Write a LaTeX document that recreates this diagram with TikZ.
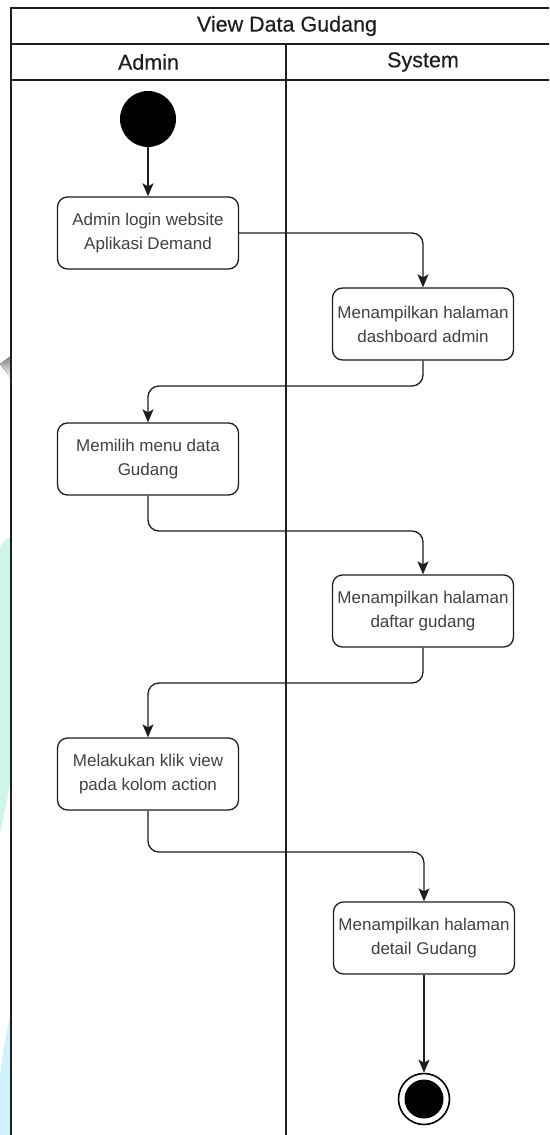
\documentclass[tikz,border=0pt]{standalone}
\usepackage{fontspec}
\setmainfont{Liberation Sans}
\newfontfamily\headfont{Liberation Sans}[FakeBold=0.35]
\usetikzlibrary{arrows.meta}

\definecolor{mint}{HTML}{CFF6E8}
\definecolor{skyblue}{HTML}{D0F2FD}
\definecolor{shade}{HTML}{C6C6C6}
\definecolor{ink}{HTML}{1E1E1E}

\tikzset{
  frameline/.style={line width=1.4pt, draw=ink},
  actbox/.style={draw=ink, line width=1.3pt, rounded corners=10pt, fill=white,
    minimum width=181pt, minimum height=72pt, inner sep=0pt, align=center,
    text=ink!85, font=\fontsize{17}{24}\selectfont},
  hdr/.style={text=ink, font=\headfont\fontsize{21.5}{24}\selectfont},
  flow/.style={draw=ink, line width=1.3pt, rounded corners=11pt,
    -{Stealth[length=13pt, width=11pt, inset=3pt]}},
  initstate/.style={circle, fill=black, minimum size=56pt, inner sep=0pt},
}

\begin{document}
\begin{tikzpicture}[x=1pt, y=-1pt]
\useasboundingbox (0,0) rectangle (549,1135);
\clip (0,0) rectangle (549,1135);

% faint background shapes along the left edge
\fill[shade] (0,364) -- (11,356) -- (11,378) -- cycle;
\fill[mint] (0,548) .. controls (3,541) and (7,538) .. (11,538) -- (11,775)
  .. controls (8,800) and (3,818) .. (0,834) -- cycle;
\fill[skyblue] (11,1012) .. controls (6,1034) and (2,1055) .. (0,1078)
  -- (0,1135) -- (11,1135) -- cycle;

% swimlane table
\fill[white] (11,8) rectangle (562,1140);
\draw[frameline] (11,1140) -- (11,8) -- (562,8);
\draw[frameline] (11,44) -- (562,44);
\draw[frameline] (11,80) -- (562,80);
\draw[frameline] (286,44) -- (286,1140);

\node[hdr] (title) at (287,26) {View Data Gudang};
\node[hdr] (laneA) at (148.5,62) {Admin};
\node[hdr] (laneS) at (423,62) {System};

% activity nodes
\node[initstate] (start) at (148,119) {};
\node[actbox] (a1) at (148,233) {Admin login website\\Aplikasi Demand};
\node[actbox] (s1) at (423,324) {Menampilkan halaman\\dashboard admin};
\node[actbox] (a2) at (148,459) {Memilih menu data\\Gudang};
\node[actbox] (s2) at (423,611) {Menampilkan halaman\\daftar gudang};
\node[actbox] (a3) at (148,774) {Melakukan klik view\\pada kolom action};
\node[actbox] (s3) at (424,938) {Menampilkan halaman\\detail Gudang};

% final state
\node[circle, draw=black, line width=1.6pt, fill=white, minimum size=51pt, inner sep=0pt] (final) at (424,1099) {};
\node[circle, fill=black, minimum size=39pt, inner sep=0pt] (finaldot) at (final) {};

% control flow
\draw[flow] (start) -- (a1);
\draw[flow] (a1.east) -| (s1.north);
\draw[flow] (s1.south) |- (286,386) -| (a2.north);
\draw[flow] (a2.south) |- (286,531) -| (s2.north);
\draw[flow] (s2.south) |- (286,683) -| (a3.north);
\draw[flow] (a3.south) |- (286,852) -| (s3.north);
\draw[flow] (s3.south) -- (final.north);
\end{tikzpicture}
\end{document}
